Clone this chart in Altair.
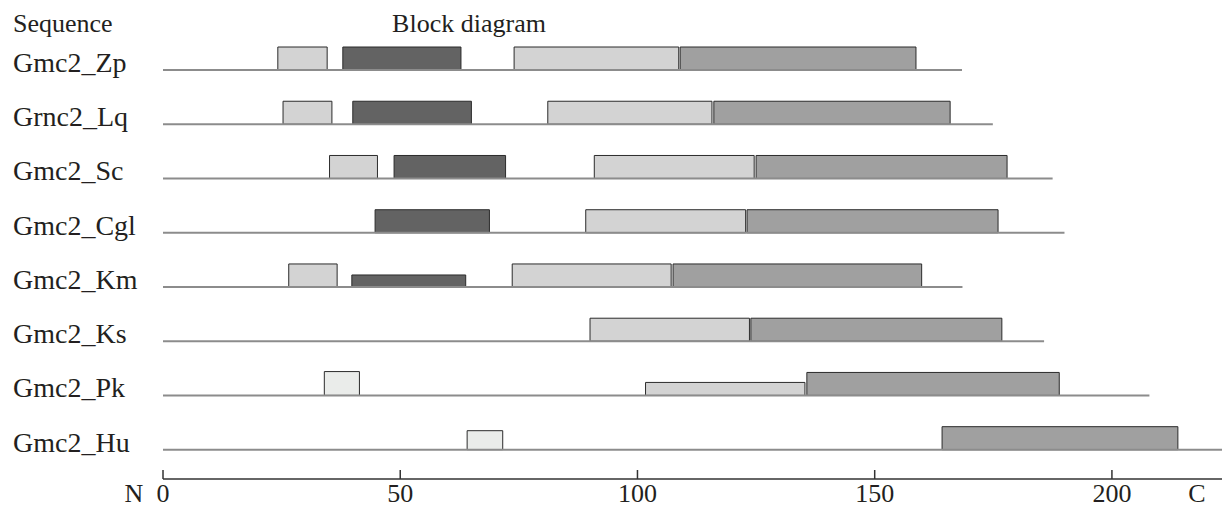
import altair as alt
import pandas as pd

# ---- data ----
rows = ["Gmc2_Zp", "Grnc2_Lq", "Gmc2_Sc", "Gmc2_Cgl", "Gmc2_Km", "Gmc2_Ks", "Gmc2_Pk", "Gmc2_Hu"]
seq_end = [168.4, 174.9, 187.5, 190.0, 168.5, 185.7, 207.9, 225.0]

box_row = [0, 0, 0, 0,
           1, 1, 1, 1,
           2, 2, 2, 2,
           3, 3, 3,
           4, 4, 4, 4,
           5, 5,
           6, 6, 6,
           7, 7]
box_start = [24.2, 37.9, 74.0, 109.0,
             25.3, 40.0, 81.1, 116.1,
             35.1, 48.7, 90.9, 125.0,
             44.7, 89.1, 123.1,
             26.5, 39.8, 73.6, 107.5,
             90.0, 123.9,
             34.0, 101.7, 135.7,
             64.1, 164.2]
box_end = [34.6, 62.8, 108.7, 158.7,
           35.6, 65.0, 115.7, 165.9,
           45.2, 72.2, 124.6, 177.9,
           68.8, 122.8, 176.0,
           36.7, 63.8, 107.1, 159.9,
           123.6, 176.8,
           41.4, 135.3, 188.9,
           71.6, 213.9]
box_kind = ["light", "dark", "light", "gray",
            "light", "dark", "light", "gray",
            "light", "dark", "light", "gray",
            "dark", "light", "gray",
            "light", "dark", "light", "gray",
            "light", "gray",
            "pale", "light", "gray",
            "pale", "gray"]
# box thickness (fraction of row spacing)
box_h = [0.424, 0.424, 0.424, 0.424,
         0.424, 0.424, 0.424, 0.424,
         0.424, 0.424, 0.424, 0.424,
         0.424, 0.424, 0.424,
         0.424, 0.221, 0.424, 0.424,
         0.424, 0.424,
         0.44, 0.24, 0.424,
         0.35, 0.424]
ticks = [0, 50, 100, 150, 200]

kinds = ["pale", "light", "dark", "gray"]
kind_colors = ["#eaecea", "#d3d3d3", "#636363", "#a0a0a0"]

# ---- layout ----
W, H = 1214, 500
FONT = "Liberation Serif"
TXT = "#231f20"

xs = alt.Scale(domain=[-32.67, 223.2], nice=False, zero=False)
ys = alt.Scale(domain=[-8.0752, 1.1431], nice=False, zero=False)

seq_df = pd.DataFrame({
    "name": rows,
    "pos": [-i for i in range(len(rows))],
    "start": [0] * len(rows),
    "end": seq_end,
})
box_df = pd.DataFrame({
    "row": box_row, "start": box_start, "end": box_end,
    "kind": box_kind, "h": box_h,
})
box_df["y"] = -box_df["row"]
box_df["y2"] = -box_df["row"] + box_df["h"]
tick_df = pd.DataFrame({"t": ticks, "lab": [str(t) for t in ticks]})

boxes = alt.Chart(box_df).mark_rect(stroke="#2b2b2b", strokeWidth=1).encode(
    x=alt.X("start:Q", scale=xs, axis=None),
    x2="end:Q",
    y=alt.Y("y:Q", scale=ys, axis=None),
    y2="y2:Q",
    fill=alt.Fill("kind:N", scale=alt.Scale(domain=kinds, range=kind_colors), legend=None),
)

lines = alt.Chart(seq_df).mark_rule(color="#8c8c8c", strokeWidth=2).encode(
    x=alt.X("start:Q", scale=xs, axis=None),
    x2="end:Q",
    y=alt.Y("pos:Q", scale=ys, axis=None),
)

labels = alt.Chart(seq_df).mark_text(
    align="left", baseline="alphabetic", font=FONT, fontSize=28, color=TXT, dy=2
).encode(
    x=alt.value(5),
    y=alt.Y("pos:Q", scale=ys, axis=None),
    text="name:N",
)

axis_line = alt.Chart(pd.DataFrame({"a": [0]})).mark_rule(color="#333333", strokeWidth=1.5).encode(
    x=alt.X("a:Q", scale=xs, axis=None),
    x2=alt.value(W),
    y=alt.value(471),
)

tick_marks = alt.Chart(tick_df).mark_rule(color="#333333", strokeWidth=1.5).encode(
    x=alt.X("t:Q", scale=xs, axis=None),
    y=alt.value(462),
    y2=alt.value(471),
)

tick_labels = alt.Chart(tick_df).mark_text(
    align="center", baseline="alphabetic", font=FONT, fontSize=26, color=TXT
).encode(
    x=alt.X("t:Q", scale=xs, axis=None),
    y=alt.value(494),
    text="lab:N",
)


def note(txt, x, y, align="left", size=26):
    return alt.Chart(pd.DataFrame({"t": [txt]})).mark_text(
        align=align, baseline="alphabetic", font=FONT, fontSize=size, color=TXT
    ).encode(x=alt.value(x), y=alt.value(y), text="t:N")


chart = alt.layer(
    boxes, lines, labels, axis_line, tick_marks, tick_labels,
    note("Sequence", 5, 24),
    note("Block diagram", 461, 24, align="center"),
    note("N", 126, 494, align="center", size=26),
    note("C", 1189, 494, align="center", size=26),
).properties(
    width=W, height=H, padding=0,
    autosize=alt.AutoSizeParams(type="none"),
).configure_view(stroke=None)

chart.save("out.html", embed_options={"renderer": "svg", "actions": False})
